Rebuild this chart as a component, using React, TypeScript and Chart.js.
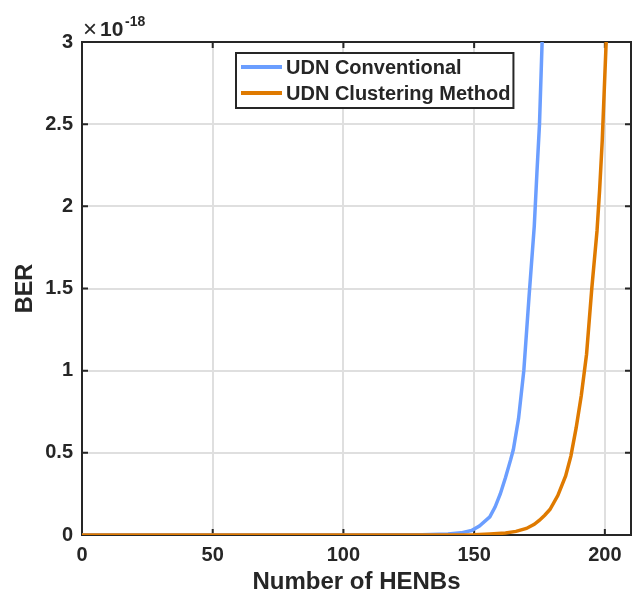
import React, { useEffect, useRef } from 'react';
import { Chart, registerables } from 'chart.js';
Chart.register(...registerables);

const xTicks = [0, 50, 100, 150, 200];
const yTicks = [0, 0.5, 1, 1.5, 2, 2.5, 3];
const xTitle = 'Number of HENBs';
const yTitle = 'BER';
const exponentBase = '10';
const exponentPower = '-18';
const seriesNames = ['UDN Conventional', 'UDN Clustering Method'];
const seriesColors = ['#6b9eff', '#df7a00'];

const conventionalX = [0, 20, 40, 60, 80, 100, 120, 130, 140, 145, 149, 152, 156, 158, 160, 162, 164, 165, 167, 169, 171, 173, 174, 175, 176, 177];
const conventionalY = [0, 0, 0, 0, 0, 0.0002, 0.0008, 0.002, 0.006, 0.013, 0.027, 0.055, 0.11, 0.17, 0.25, 0.35, 0.46, 0.52, 0.71, 1.0, 1.45, 1.88, 2.2, 2.5, 3.0, 3.4];

const clusteringX = [0, 20, 40, 60, 80, 100, 120, 140, 150, 156, 162, 166, 170, 173, 175, 177, 179, 182, 185, 187, 189, 191, 193, 195, 197, 198, 199, 200, 201];
const clusteringY = [0, 0, 0, 0, 0, 0, 0.0001, 0.0005, 0.002, 0.006, 0.012, 0.022, 0.04, 0.065, 0.09, 0.12, 0.155, 0.24, 0.36, 0.48, 0.65, 0.85, 1.1, 1.5, 1.85, 2.1, 2.4, 2.8, 3.2];

const FONT = "'Liberation Sans', Arial, Helvetica, sans-serif";
const INK = '#262626';

const matlabFrame = {
  id: 'matlabFrame',
  beforeDatasetsDraw(chart: any) {
    const { ctx, chartArea: a, scales } = chart;
    ctx.save();
    ctx.strokeStyle = INK;
    ctx.lineWidth = 2;
    ctx.beginPath();
    xTicks.forEach((v) => {
      const px = scales.x.getPixelForValue(v);
      ctx.moveTo(px, a.bottom);
      ctx.lineTo(px, a.bottom - 6);
      ctx.moveTo(px, a.top);
      ctx.lineTo(px, a.top + 6);
    });
    yTicks.forEach((v) => {
      const py = scales.y.getPixelForValue(v);
      ctx.moveTo(a.left, py);
      ctx.lineTo(a.left + 6, py);
      ctx.moveTo(a.right, py);
      ctx.lineTo(a.right - 6, py);
    });
    ctx.stroke();
    ctx.strokeRect(a.left, a.top, a.right - a.left, a.bottom - a.top);
    ctx.restore();
  },
  afterDraw(chart: any) {
    const { ctx, chartArea: a } = chart;
    ctx.save();
    // exponent label
    ctx.fillStyle = INK;
    ctx.textBaseline = 'alphabetic';
    ctx.textAlign = 'left';
    ctx.font = `24px ${FONT}`;
    ctx.fillText('\u00d7', a.left + 1, a.top - 5);
    ctx.font = `bold 21px ${FONT}`;
    ctx.fillText(exponentBase, a.left + 18, a.top - 6);
    ctx.font = `bold 14px ${FONT}`;
    ctx.fillText(exponentPower, a.left + 43, a.top - 16);

    // legend
    ctx.font = `bold 20px ${FONT}`;
    const boxLeft = a.left + 154;
    const boxTop = a.top + 11;
    const textOffset = 50;
    const maxW = Math.max(...seriesNames.map((n) => ctx.measureText(n).width));
    const boxW = textOffset + maxW + 3;
    const rowH = 26;
    const boxH = 55;
    ctx.fillStyle = '#ffffff';
    ctx.fillRect(boxLeft, boxTop, boxW, boxH);
    ctx.strokeStyle = INK;
    ctx.lineWidth = 2;
    ctx.strokeRect(boxLeft, boxTop, boxW, boxH);
    seriesNames.forEach((name, i) => {
      const cy = boxTop + 14 + i * rowH;
      ctx.strokeStyle = seriesColors[i];
      ctx.lineWidth = 4;
      ctx.beginPath();
      ctx.moveTo(boxLeft + 5, cy);
      ctx.lineTo(boxLeft + 46, cy);
      ctx.stroke();
      ctx.fillStyle = INK;
      ctx.textBaseline = 'middle';
      ctx.fillText(name, boxLeft + textOffset, cy + 1);
    });
    ctx.restore();
  },
};

export default function App() {
  const ref = useRef<HTMLCanvasElement>(null);
  useEffect(() => {
    document.body.style.margin = '0';
    const canvas = ref.current;
    if (!canvas) return;
    const chart = new Chart(canvas, {
      type: 'line',
      data: {
        datasets: [
          {
            label: seriesNames[0],
            data: conventionalX.map((x, i) => ({ x, y: conventionalY[i] })),
            borderColor: seriesColors[0],
            borderWidth: 3.5,
            pointRadius: 0,
            tension: 0,
            order: 2,
          },
          {
            label: seriesNames[1],
            data: clusteringX.map((x, i) => ({ x, y: clusteringY[i] })),
            borderColor: seriesColors[1],
            borderWidth: 3.5,
            pointRadius: 0,
            tension: 0,
            order: 1,
          },
        ],
      },
      options: {
        animation: false,
        responsive: false,
        devicePixelRatio: 1,
        layout: { padding: { top: 42, right: 2, left: 0, bottom: 0 } },
        plugins: { legend: { display: false }, tooltip: { enabled: false } },
        scales: {
          x: {
            type: 'linear',
            min: 0,
            max: 210,
            afterBuildTicks: (s: any) => {
              s.ticks = xTicks.map((v) => ({ value: v }));
            },
            afterFit: (s: any) => {
              s.height = 64;
            },
            grid: { color: '#dfdfdf', lineWidth: 2, drawTicks: false },
            border: { display: false },
            ticks: {
              color: INK,
              padding: 8,
              maxRotation: 0,
              font: { family: FONT, size: 20, weight: 'bold' },
              callback: (v: any) => String(v),
            },
            title: {
              display: true,
              text: xTitle,
              color: INK,
              font: { family: FONT, size: 24, weight: 'bold' },
              padding: { top: 0, bottom: 2 },
            },
          },
          y: {
            type: 'linear',
            min: 0,
            max: 3,
            afterBuildTicks: (s: any) => {
              s.ticks = yTicks.map((v) => ({ value: v }));
            },
            afterFit: (s: any) => {
              s.width = 82;
            },
            grid: { color: '#dfdfdf', lineWidth: 2, drawTicks: false },
            border: { display: false },
            ticks: {
              color: INK,
              padding: 9,
              font: { family: FONT, size: 20, weight: 'bold' },
              callback: (v: any) => String(v),
            },
            title: {
              display: true,
              text: yTitle,
              color: INK,
              font: { family: FONT, size: 23.5, weight: 'bold' },
              padding: { top: 11, bottom: 0 },
            },
          },
        },
      },
      plugins: [matlabFrame],
    } as any);
    return () => chart.destroy();
  }, []);
  return (
    <div style={{ position: 'absolute', left: 0, top: 0, width: 633, height: 599, background: '#fff' }}>
      <canvas ref={ref} width={633} height={599} />
    </div>
  );
}
